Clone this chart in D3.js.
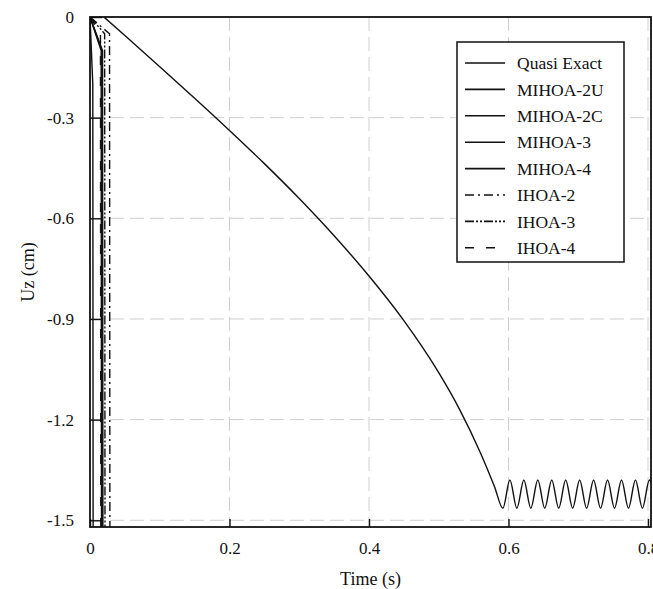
<!DOCTYPE html>
<html>
<head>
<meta charset="utf-8">
<script src="https://cdn.jsdelivr.net/npm/d3@7"></script>
<style>
  body { margin: 0; background: #fff; }
  text { font-family: "Liberation Serif", "Times New Roman", serif; fill: #111; }
</style>
</head>
<body>
<div id="chart-area"></div>
<script>
// Datos
const seriesNames = ["Quasi Exact", "MIHOA-2U", "MIHOA-2C", "MIHOA-3", "MIHOA-4", "IHOA-2", "IHOA-3", "IHOA-4"];

const quasiTime = [0.020, 0.050, 0.100, 0.150, 0.200, 0.250, 0.300, 0.350, 0.400, 0.450, 0.500, 0.530, 0.560, 0.580, 0.592,
  0.602, 0.612, 0.622, 0.632, 0.642, 0.652, 0.662, 0.672, 0.682, 0.692, 0.702, 0.712, 0.722, 0.732,
  0.742, 0.752, 0.762, 0.772, 0.782, 0.792, 0.802, 0.812];
const quasiUz = [0, -0.055, -0.148, -0.242, -0.338, -0.437, -0.541, -0.652, -0.772, -0.905, -1.060, -1.170, -1.300, -1.400, -1.464,
  -1.380, -1.464, -1.380, -1.464, -1.380, -1.464, -1.380, -1.464, -1.380, -1.464, -1.380, -1.464, -1.380, -1.464,
  -1.380, -1.464, -1.380, -1.464, -1.380, -1.464, -1.380, -1.464];

// Los otros metodos divergen casi de inmediato
const mihoa2uTime = [0, 0.004, 0.005]; const mihoa2uUz = [0, -0.2, -3];
const mihoa2cTime = [0, 0.016, 0.017]; const mihoa2cUz = [0, -0.1, -3];
const mihoa3Time = [0, 0.017, 0.018]; const mihoa3Uz = [0, -0.1, -3];
const mihoa4Time = [0, 0.018, 0.019]; const mihoa4Uz = [0, -0.1, -3];
const ihoa2Time = [0, 0.028, 0.029]; const ihoa2Uz = [0, -0.05, -3];
const ihoa3Time = [0, 0.021, 0.022]; const ihoa3Uz = [0, -0.05, -3];
const ihoa4Time = [0, 0.015, 0.016]; const ihoa4Uz = [0, -0.05, -3];

const xTicks = [0, 0.2, 0.4, 0.6, 0.8];
const xTickLabels = ["0", "0.2", "0.4", "0.6", "0.8"];
const yTicks = [0, -0.3, -0.6, -0.9, -1.2, -1.5];
const yTickLabels = ["0", "-0.3", "-0.6", "-0.9", "-1.2", "-1.5"];

const zip = (t, u) => t.map((d, i) => ({ t: d, u: u[i] }));
const series = [
  { name: seriesNames[0], data: zip(quasiTime, quasiUz), dash: null, curve: d3.curveMonotoneX },
  { name: seriesNames[1], data: zip(mihoa2uTime, mihoa2uUz), dash: null },
  { name: seriesNames[2], data: zip(mihoa2cTime, mihoa2cUz), dash: null },
  { name: seriesNames[3], data: zip(mihoa3Time, mihoa3Uz), dash: null },
  { name: seriesNames[4], data: zip(mihoa4Time, mihoa4Uz), dash: null },
  { name: seriesNames[5], data: zip(ihoa2Time, ihoa2Uz), dash: "9,4,2,4" },
  { name: seriesNames[6], data: zip(ihoa3Time, ihoa3Uz), dash: "9,2,2,2,2,2" },
  { name: seriesNames[7], data: zip(ihoa4Time, ihoa4Uz), dash: "9,12" }
];

const width = 561;
const height = 510;
const margin = { top: 17, right: 2, bottom: 62, left: 90 };

const svg = d3.select("#chart-area")
  .append("svg")
  .attr("width", width + margin.left + margin.right)
  .attr("height", height + margin.top + margin.bottom);

const g = svg.append("g")
  .attr("transform", `translate(${margin.left}, ${margin.top})`);

// Escalas
const x = d3.scaleLinear().domain([0, 0.8043]).range([0, width]);
const y = d3.scaleLinear().domain([-1.52, 0]).range([height, 0]);

// Rejilla
g.append("g").selectAll("line")
  .data(xTicks.filter(d => d > 0))
  .enter().append("line")
  .attr("x1", d => x(d)).attr("x2", d => x(d))
  .attr("y1", 0).attr("y2", height)
  .attr("stroke", "#cfcfcf").attr("stroke-width", 1).attr("stroke-dasharray", "14,6");
g.append("g").selectAll("line")
  .data(yTicks.filter(d => d < 0))
  .enter().append("line")
  .attr("x1", 0).attr("x2", width)
  .attr("y1", d => y(d)).attr("y2", d => y(d))
  .attr("stroke", "#cfcfcf").attr("stroke-width", 1).attr("stroke-dasharray", "14,6");

// Curvas
g.append("clipPath").attr("id", "clip")
  .append("rect").attr("width", width).attr("height", height);

const plot = g.append("g").attr("clip-path", "url(#clip)");
series.forEach(s => {
  const line = d3.line().x(d => x(d.t)).y(d => y(d.u)).curve(s.curve || d3.curveLinear);
  plot.append("path")
    .datum(s.data)
    .attr("d", line)
    .attr("fill", "none")
    .attr("stroke", "#111")
    .attr("stroke-width", 1.4)
    .attr("stroke-dasharray", s.dash);
});

// Ejes
const bottomAxis = d3.axisBottom(x).tickValues(xTicks)
  .tickFormat((d, i) => xTickLabels[i]).tickSizeInner(-8).tickSizeOuter(0).tickPadding(15);
const xAxisG = g.append("g")
  .attr("transform", `translate(0, ${height})`)
  .call(bottomAxis);
xAxisG.selectAll("text").attr("font-size", "17px");

const leftAxis = d3.axisLeft(y).tickValues(yTicks)
  .tickFormat((d, i) => yTickLabels[i]).tickSizeInner(-12).tickSizeOuter(0).tickPadding(16);
const yAxisG = g.append("g").call(leftAxis);
yAxisG.selectAll("text").attr("font-size", "17px");

[xAxisG, yAxisG].forEach(a => {
  a.select(".domain").remove();
  a.selectAll(".tick line").attr("stroke", "#111").attr("stroke-width", 1.4);
});

// Marco
g.append("rect")
  .attr("width", width).attr("height", height)
  .attr("fill", "none").attr("stroke", "#111").attr("stroke-width", 1.8);

// Etiquetas de ejes
g.append("text")
  .attr("x", width / 2)
  .attr("y", height + 58)
  .attr("font-size", "18px")
  .attr("text-anchor", "middle")
  .text("Time (s)");

g.append("text")
  .attr("transform", "rotate(-90)")
  .attr("x", -height / 2)
  .attr("y", -56)
  .attr("font-size", "18px")
  .attr("text-anchor", "middle")
  .text("Uz (cm)");

// Leyenda
const legend = g.append("g").attr("transform", `translate(${367}, ${25})`);
legend.append("rect")
  .attr("width", 167).attr("height", 220)
  .attr("fill", "#fff").attr("stroke", "#111").attr("stroke-width", 1.5);
series.forEach((s, i) => {
  const row = legend.append("g").attr("transform", `translate(0, ${21 + i * 26.4})`);
  row.append("line")
    .attr("x1", 8).attr("x2", 48)
    .attr("stroke", "#111").attr("stroke-width", 1.6)
    .attr("stroke-dasharray", s.dash);
  row.append("text")
    .attr("x", 60).attr("dy", "0.35em")
    .attr("font-size", "17.5px")
    .text(s.name);
});
</script>
</body>
</html>
